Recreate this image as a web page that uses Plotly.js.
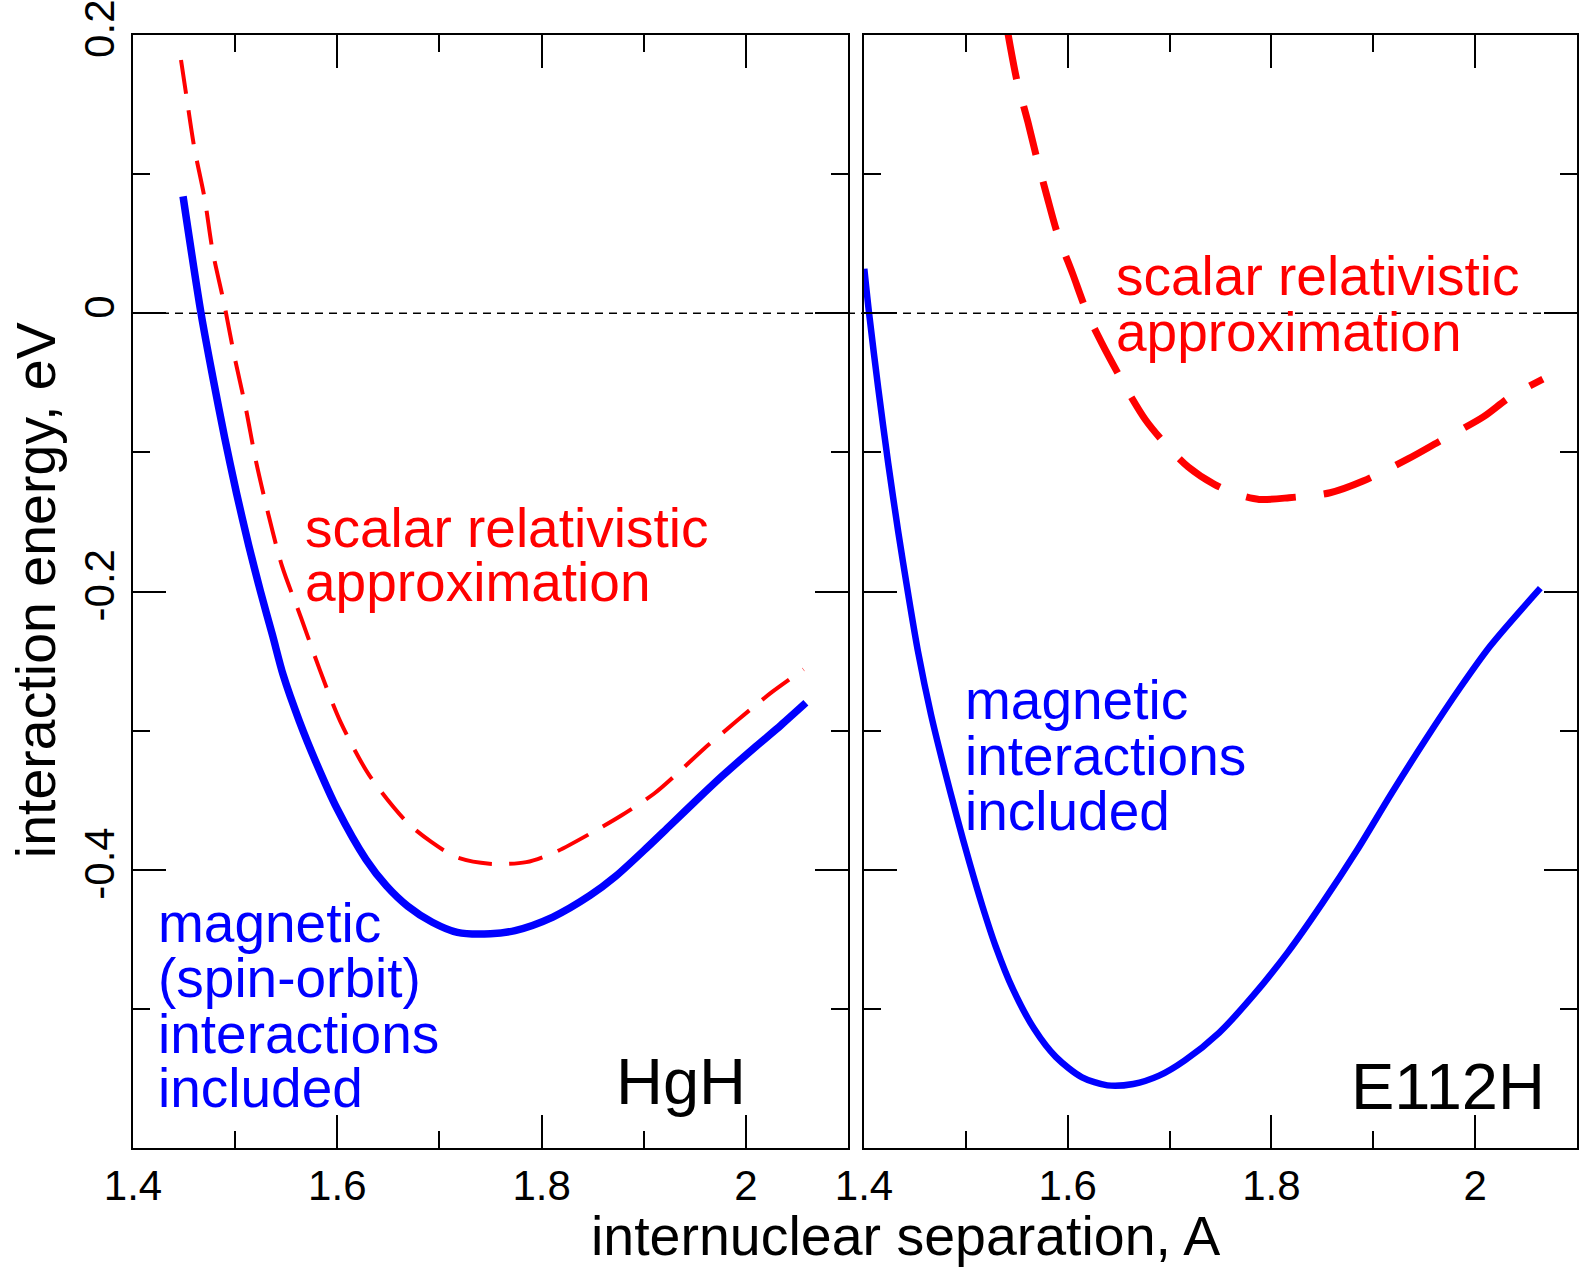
<!DOCTYPE html>
<html>
<head>
<meta charset="utf-8">
<script src="https://cdn.plot.ly/plotly-3.0.1.min.js"></script>
<style>html,body{margin:0;padding:0;background:#fff;}#chart{width:1582px;height:1267px;}</style>
</head>
<body>
<div id="chart"></div>
<script>
// ---- Data ----
// HgH, magnetic (spin-orbit) interactions included
var hghSoX = [1.449, 1.4666, 1.478, 1.4898, 1.5015, 1.5132, 1.5249, 1.5366, 1.547, 1.563, 1.579, 1.5997, 1.628, 1.648, 1.669, 1.693, 1.7175, 1.750, 1.774, 1.811, 1.8474, 1.872, 1.904, 1.9246, 1.953, 1.977, 2.0096, 2.0344, 2.0587];
var hghSoY = [0.084, 0.0, -0.0455, -0.0896, -0.1298, -0.1666, -0.2003, -0.2315, -0.260, -0.2935, -0.3225, -0.356, -0.3925, -0.4115, -0.4262, -0.4377, -0.445, -0.446, -0.4437, -0.434, -0.4185, -0.405, -0.3835, -0.369, -0.349, -0.3325, -0.3115, -0.296, -0.280];
// HgH, scalar relativistic approximation
var hghSrX = [1.447, 1.452, 1.460, 1.470, 1.478, 1.4895, 1.499, 1.5105, 1.520, 1.532, 1.546, 1.5646, 1.5827, 1.603, 1.6312, 1.668, 1.692, 1.7166, 1.749, 1.785, 1.8135, 1.85, 1.878, 1.9106, 1.931, 1.959, 1.975, 2.0057, 2.026, 2.0564];
var hghSrY = [0.182, 0.1575, 0.119, 0.083, 0.0445, 0.0058, -0.030, -0.0686, -0.105, -0.143, -0.182, -0.219, -0.256, -0.2935, -0.332, -0.3657, -0.380, -0.391, -0.3957, -0.3945, -0.3873, -0.373, -0.361, -0.345, -0.332, -0.313, -0.303, -0.284, -0.272, -0.256];
// E112H, magnetic interactions included
var e112SoX = [1.4003, 1.405, 1.414, 1.4238, 1.4336, 1.4433, 1.4531, 1.4658, 1.4785, 1.491, 1.5038, 1.5164, 1.529, 1.546, 1.5672, 1.5883, 1.6136, 1.639, 1.6644, 1.6897, 1.715, 1.7488, 1.7826, 1.8164, 1.850, 1.884, 1.918, 1.9517, 1.9854, 2.015, 2.064];
var e112SoY = [0.032, 0.0, -0.054, -0.108, -0.157, -0.2015, -0.2435, -0.2885, -0.3265, -0.3615, -0.3955, -0.4265, -0.4545, -0.4855, -0.5145, -0.5345, -0.549, -0.555, -0.554, -0.548, -0.537, -0.517, -0.490, -0.459, -0.424, -0.386, -0.345, -0.306, -0.269, -0.239, -0.1976];
// E112H, scalar relativistic approximation
var e112SrX = [1.5407, 1.55, 1.5609, 1.570, 1.5793, 1.590, 1.6049, 1.6195, 1.6342, 1.6488, 1.6598, 1.6763, 1.6965, 1.7184, 1.744, 1.766, 1.788, 1.8173, 1.8576, 1.890, 1.9345, 1.9639, 2.008, 2.0336, 2.0665];
var e112SrY = [0.2037, 0.1677, 0.1375, 0.1105, 0.085, 0.057, 0.0283, -0.0005, -0.0225, -0.0425, -0.057, -0.0765, -0.0945, -0.1105, -0.123, -0.130, -0.1338, -0.1326, -0.129, -0.1206, -0.1045, -0.0925, -0.0745, -0.0605, -0.0473];

// Tick values / labels
var xTickVals = [1.4, 1.6, 1.8, 2.0];
var xTickText = ['1.4', '1.6', '1.8', '2'];
var yTickVals = [-0.6, -0.4, -0.2, 0, 0.2];
var yTickText = ['', '-0.4', '-0.2', '0', '0.2'];

var FONT = 'Liberation Sans, Arial, Helvetica, sans-serif';
var RED = '#ff0000', BLUE = '#0000ff';

var traces = [
  {x: hghSrX, y: hghSrY, xaxis: 'x', yaxis: 'y', mode: 'lines',
   line: {color: RED, width: 4, dash: '34px,17px', shape: 'spline', smoothing: 0.8}},
  {x: hghSoX, y: hghSoY, xaxis: 'x', yaxis: 'y', mode: 'lines',
   line: {color: BLUE, width: 7.5, shape: 'spline', smoothing: 0.8}},
  {x: e112SrX, y: e112SrY, xaxis: 'x2', yaxis: 'y2', mode: 'lines',
   line: {color: RED, width: 7, dash: '50px,28px', shape: 'spline', smoothing: 0.8}},
  {x: e112SoX, y: e112SoY, xaxis: 'x2', yaxis: 'y2', mode: 'lines',
   line: {color: BLUE, width: 6.5, shape: 'spline', smoothing: 0.8}}
];

function xAxis(domain, anchor) {
  return {
    domain: domain, anchor: anchor, range: [1.4, 2.1],
    tickmode: 'array', tickvals: xTickVals, ticktext: xTickText,
    ticks: 'inside', ticklen: 33, tickwidth: 2, tickcolor: '#000',
    minor: {dtick: 0.1, tick0: 1.4, ticks: 'inside', ticklen: 17, tickwidth: 2, tickcolor: '#000', showgrid: false},
    showline: true, linewidth: 2, linecolor: '#000', mirror: 'ticks',
    showgrid: false, zeroline: false,
    tickfont: {family: FONT, size: 42, color: '#000'}
  };
}
function yAxis(anchor, labels) {
  return {
    domain: [0, 1], anchor: anchor, range: [-0.6, 0.2000001],
    tickmode: 'array', tickvals: yTickVals, ticktext: yTickText,
    ticks: 'inside', ticklen: 33, tickwidth: 2, tickcolor: '#000',
    minor: {dtick: 0.1, tick0: 0, ticks: 'inside', ticklen: 17, tickwidth: 2, tickcolor: '#000', showgrid: false},
    showline: true, linewidth: 2, linecolor: '#000', mirror: 'ticks',
    showgrid: false, zeroline: false, showticklabels: labels,
    ticklabeloverflow: 'allow',
    tickangle: -90,
    tickfont: {family: FONT, size: 42, color: '#000'}
  };
}

function lbl(text, xref, yref, x, y, color, size, xanchor) {
  return {text: text, xref: xref, yref: yref, x: x, y: y, showarrow: false,
          xanchor: xanchor || 'left', yanchor: 'middle',
          font: {family: FONT, size: size, color: color}};
}

var annotations = [
  // left panel
  lbl('scalar relativistic', 'x', 'y', 1.5668, -0.1542, RED, 55),
  lbl('approximation', 'x', 'y', 1.5668, -0.1935, RED, 55),
  lbl('magnetic', 'x', 'y', 1.4223, -0.438, BLUE, 55),
  lbl('(spin-orbit)', 'x', 'y', 1.4223, -0.4781, BLUE, 55),
  lbl('interactions', 'x', 'y', 1.4223, -0.5178, BLUE, 55),
  lbl('included', 'x', 'y', 1.4223, -0.557, BLUE, 55),
  lbl('HgH', 'x', 'y', 2.002, -0.5524, '#000', 65, 'right'),
  // right panel
  lbl('scalar relativistic', 'x2', 'y2', 1.6458, 0.02645, RED, 55),
  lbl('approximation', 'x2', 'y2', 1.6458, -0.01317, RED, 55),
  lbl('magnetic', 'x2', 'y2', 1.4974, -0.2781, BLUE, 55),
  lbl('interactions', 'x2', 'y2', 1.4974, -0.3183, BLUE, 55),
  lbl('included', 'x2', 'y2', 1.4974, -0.3580, BLUE, 55),
  lbl('E112H', 'x2', 'y2', 2.0707, -0.556, '#000', 65, 'right'),
  // axis titles
  {text: 'interaction energy, eV', xref: 'paper', yref: 'paper', x: -0.0672, y: 0.5012,
   textangle: -90, showarrow: false, xanchor: 'center', yanchor: 'middle',
   font: {family: FONT, size: 55.5, color: '#000'}},
  {text: 'internuclear separation, A', xref: 'paper', yref: 'paper', x: 0.5351, y: -0.0791,
   showarrow: false, xanchor: 'center', yanchor: 'middle',
   font: {family: FONT, size: 55.5, color: '#000'}}
];

var layout = {
  width: 1582, height: 1267,
  margin: {l: 133, r: 5, t: 35, b: 119, pad: 0},
  paper_bgcolor: '#fff', plot_bgcolor: '#fff',
  showlegend: false,
  xaxis: xAxis([0, 0.4952], 'y'),
  xaxis2: xAxis([0.50623, 1], 'y2'),
  yaxis: yAxis('x', true),
  yaxis2: yAxis('x2', false),
  shapes: [
    {type: 'line', xref: 'paper', yref: 'y', x0: 0, x1: 0.993, y0: 0, y1: 0,
     layer: 'below', line: {color: '#000', width: 1.5, dash: '8px,6px'}}
  ],
  annotations: annotations
};

Plotly.newPlot('chart', traces, layout, {staticPlot: true, displayModeBar: false});
</script>
</body>
</html>
